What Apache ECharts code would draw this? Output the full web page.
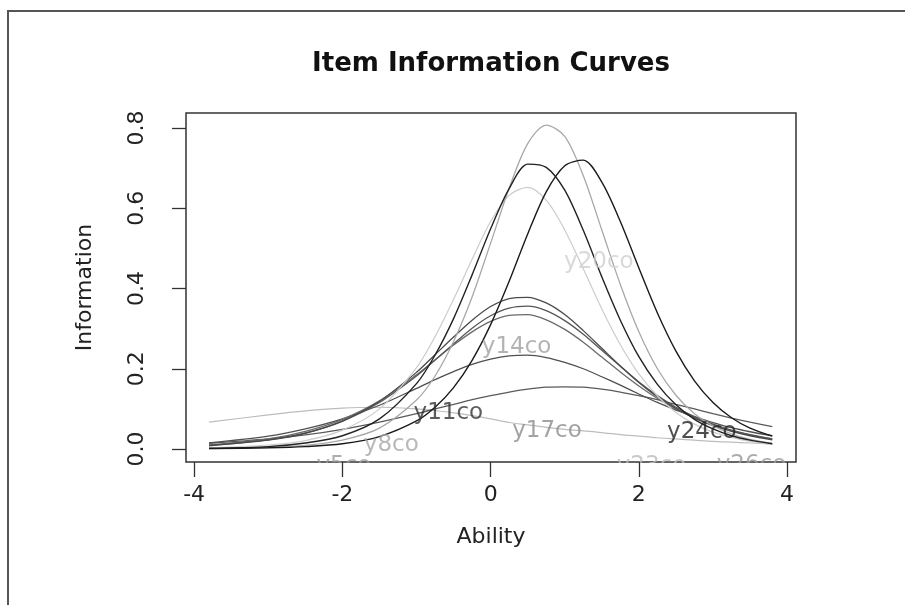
<!DOCTYPE html>
<html>
<head>
<meta charset="utf-8">
<script src="https://cdn.jsdelivr.net/npm/echarts@6/dist/echarts.min.js"></script>
<style>
  html, body { margin: 0; padding: 0; background: #fff; }
  #chart { width: 905px; height: 605px; }
</style>
</head>
<body>
<div id="chart"></div>
<script>
// ability grid (x) where the curves were read
const ability = [-3.8, -3, -2.5, -2, -1.5, -1, -0.75, -0.5, -0.25, 0, 0.25, 0.5, 0.75, 1, 1.25, 1.5, 1.75, 2, 2.25, 2.5, 2.75, 3, 3.25, 3.5, 3.8];

// information values, one array per curve
const curveTallGray  = [0.001, 0.004, 0.009, 0.022, 0.052, 0.122, 0.182, 0.268, 0.379, 0.513, 0.650, 0.761, 0.807, 0.779, 0.681, 0.546, 0.410, 0.292, 0.200, 0.134, 0.088, 0.058, 0.038, 0.024, 0.014];
const curveDarkLeft  = [0.002, 0.006, 0.015, 0.033, 0.075, 0.163, 0.234, 0.325, 0.434, 0.549, 0.649, 0.710, 0.702, 0.645, 0.545, 0.429, 0.321, 0.230, 0.161, 0.110, 0.074, 0.050, 0.033, 0.022, 0.013];
const curveDarkRight = [0.001, 0.003, 0.006, 0.013, 0.031, 0.070, 0.104, 0.153, 0.221, 0.310, 0.418, 0.536, 0.641, 0.706, 0.720, 0.665, 0.567, 0.451, 0.339, 0.244, 0.170, 0.116, 0.078, 0.052, 0.032];
const curveLightPeak = [0.003, 0.010, 0.021, 0.047, 0.100, 0.203, 0.280, 0.373, 0.473, 0.567, 0.632, 0.652, 0.620, 0.546, 0.449, 0.349, 0.260, 0.187, 0.132, 0.091, 0.062, 0.042, 0.029, 0.019, 0.012];
const curveMid1      = [0.008, 0.022, 0.039, 0.070, 0.119, 0.191, 0.235, 0.279, 0.321, 0.355, 0.375, 0.378, 0.364, 0.335, 0.295, 0.251, 0.207, 0.166, 0.130, 0.101, 0.077, 0.058, 0.044, 0.033, 0.023];
const curveMid2      = [0.009, 0.023, 0.040, 0.069, 0.116, 0.182, 0.222, 0.262, 0.301, 0.332, 0.351, 0.356, 0.345, 0.320, 0.286, 0.246, 0.206, 0.167, 0.133, 0.104, 0.081, 0.062, 0.047, 0.036, 0.025];
const curveMid3      = [0.010, 0.025, 0.044, 0.074, 0.120, 0.185, 0.222, 0.259, 0.292, 0.318, 0.333, 0.335, 0.322, 0.298, 0.266, 0.229, 0.192, 0.157, 0.126, 0.100, 0.078, 0.060, 0.046, 0.035, 0.025];
const curveLow1      = [0.015, 0.032, 0.050, 0.075, 0.109, 0.151, 0.173, 0.193, 0.211, 0.224, 0.232, 0.234, 0.228, 0.216, 0.200, 0.180, 0.159, 0.137, 0.116, 0.097, 0.081, 0.066, 0.053, 0.043, 0.033];
const curveLow2      = [0.014, 0.025, 0.035, 0.049, 0.067, 0.088, 0.100, 0.111, 0.123, 0.133, 0.142, 0.149, 0.154, 0.155, 0.154, 0.149, 0.142, 0.133, 0.123, 0.111, 0.100, 0.088, 0.077, 0.067, 0.056];
const curveFlat      = [0.067, 0.085, 0.095, 0.102, 0.104, 0.100, 0.096, 0.090, 0.083, 0.075, 0.066, 0.060, 0.054, 0.049, 0.045, 0.041, 0.036, 0.032, 0.028, 0.025, 0.022, 0.019, 0.017, 0.015, 0.012];

// item labels written into the plot
const labelNames = ['y5co', 'y8co', 'y11co', 'y14co', 'y17co', 'y20co', 'y23co', 'y24co', 'y26co'];
const labelX     = [-1.98, -1.34, -0.57, 0.35, 0.76, 1.46, 2.17, 2.85, 3.52];
const labelY     = [-0.042, 0.010, 0.090, 0.254, 0.045, 0.466, -0.042, 0.042, -0.040];

const xTicks = [-4, -2, 0, 2, 4];
const yTicks = [0, 0.2, 0.4, 0.6, 0.8];

const FONT = 'DejaVu Sans';

const curves = [
    { data: curveFlat,      color: '#bdbdbd', width: 1.2 },
    { data: curveLow2,      color: '#5a5a5a', width: 1.3 },
    { data: curveLow1,      color: '#505050', width: 1.3 },
    { data: curveMid3,      color: '#6a6a6a', width: 1.3 },
    { data: curveMid2,      color: '#555555', width: 1.3 },
    { data: curveMid1,      color: '#4a4a4a', width: 1.3 },
    { data: curveLightPeak, color: '#cccccc', width: 1.2 },
    { data: curveTallGray,  color: '#a8a8a8', width: 1.3 },
    { data: curveDarkLeft,  color: '#222222', width: 1.4 },
    { data: curveDarkRight, color: '#1a1a1a', width: 1.4 }
];
const labelColors = ['#9a9a9a', '#a6a6a6', '#333333', '#a0a0a0', '#8c8c8c', '#cfcfcf', '#bbbbbb', '#222222', '#999999'];

const chart = echarts.init(document.getElementById('chart'));

const series = curves.map(c => ({
    type: 'line',
    data: ability.map((x, i) => [x, c.data[i]]),
    smooth: 0.3,
    showSymbol: false,
    silent: true,
    lineStyle: { color: c.color, width: c.width },
    z: 2
}));

series.push({
    type: 'scatter',
    symbolSize: 0,
    silent: true,
    clip: false,
    data: labelNames.map((n, i) => ({
        value: [labelX[i], labelY[i]],
        name: n,
        label: { color: labelColors[i] }
    })),
    label: {
        show: true,
        position: 'inside',
        formatter: p => p.name,
        fontFamily: FONT,
        fontSize: 23
    },
    z: 3
});

const option = {
    backgroundColor: '#ffffff',
    animation: false,
    title: {
        text: 'Item Information Curves',
        left: 491,
        top: 51,
        padding: 0,
        textAlign: 'center',
        textStyle: { fontFamily: FONT, fontWeight: 'bold', fontSize: 26, color: '#111' }
    },
    grid: {
        left: 186, top: 113, width: 610, height: 349,
        show: true, borderColor: '#333', borderWidth: 1.5,
        outerBoundsMode: 'none'
    },
    xAxis: {
        type: 'value', min: -4.11, max: 4.12,
        name: 'Ability', nameLocation: 'middle', nameGap: 64,
        nameTextStyle: { fontFamily: FONT, fontSize: 22, color: '#222' },
        axisLine: { show: false, onZero: false },
        splitLine: { show: false },
        axisTick: { show: true, customValues: xTicks, length: 15, lineStyle: { color: '#333', width: 1.3 } },
        axisLabel: { customValues: xTicks, margin: 22, fontFamily: FONT, fontSize: 22, color: '#222' },
        z: 10
    },
    yAxis: {
        type: 'value', min: -0.0324, max: 0.8374,
        name: 'Information', nameLocation: 'middle', nameGap: 90,
        nameTextStyle: { fontFamily: FONT, fontSize: 22, color: '#222' },
        axisLine: { show: false, onZero: false },
        splitLine: { show: false },
        axisTick: { show: true, customValues: yTicks, length: 14, lineStyle: { color: '#333', width: 1.3 } },
        axisLabel: { customValues: yTicks, rotate: 90, margin: 38, fontFamily: FONT, fontSize: 22, color: '#222',
                     formatter: v => v.toFixed(1) },
        z: 10
    },
    graphic: [
        // outer frame of the image
        { type: 'rect', shape: { x: 8, y: 11, width: 920, height: 620 },
          style: { fill: 'none', stroke: '#555', lineWidth: 2 }, z: 0, silent: true },
        // R clips text at the plot region; mask anything below the box
        { type: 'rect', shape: { x: 150, y: 463, width: 680, height: 18 },
          style: { fill: '#fff' }, z: 5, silent: true }
    ],
    series: series
};

chart.setOption(option);
</script>
</body>
</html>
